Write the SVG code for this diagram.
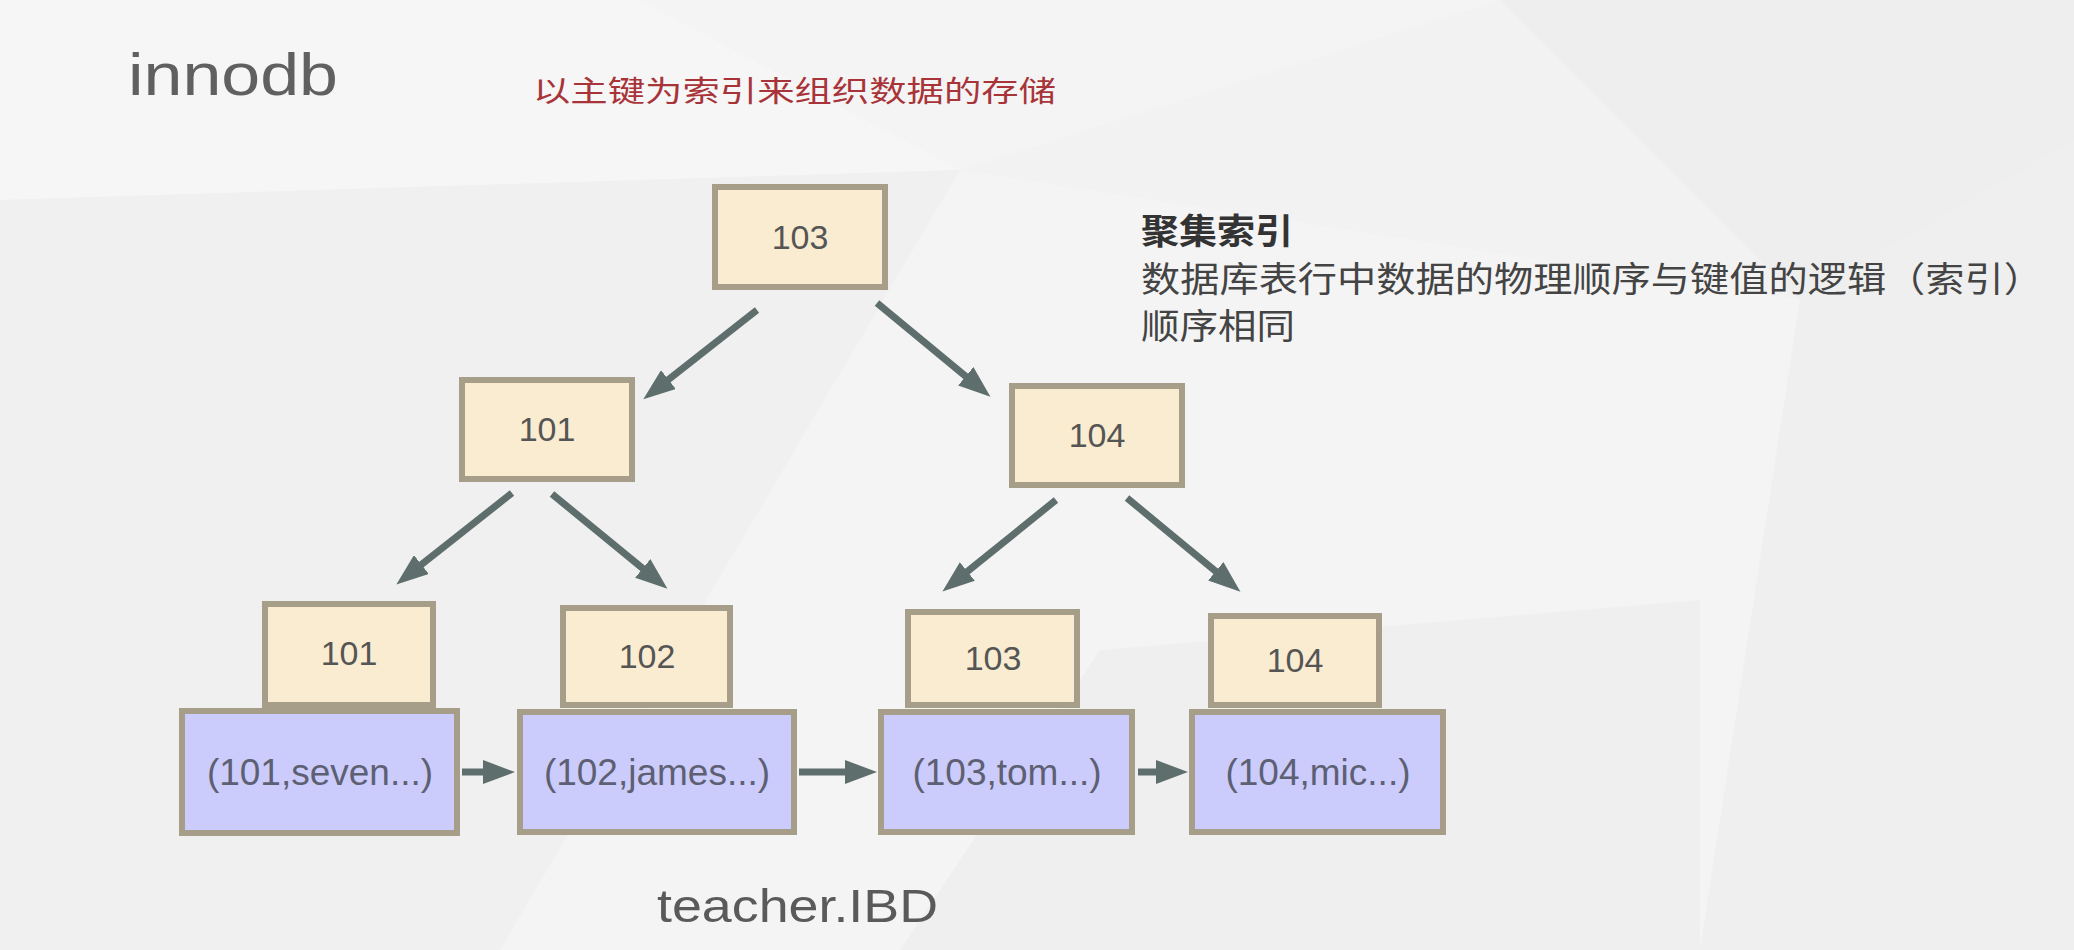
<svg xmlns="http://www.w3.org/2000/svg" width="2074" height="950" viewBox="0 0 2074 950">
<defs>
<style>
.key{fill:#f9ecd0;stroke:#a69e88;stroke-width:6}
.rec{fill:#ccccfc;stroke:#a69e88;stroke-width:6}
.kt{font-family:"Liberation Sans",Arial,sans-serif;font-size:34px;fill:#555555;text-anchor:middle}
.rt{font-family:"Liberation Sans",Arial,sans-serif;font-size:37px;fill:#5d6073;text-anchor:middle}
.arr{stroke:#5e6e6c;stroke-width:7;fill:none;marker-end:url(#ah)}
.cjk{font-family:"Noto Sans CJK SC","Noto Sans CJK JP",sans-serif}
</style>
<marker id="ah" markerUnits="userSpaceOnUse" markerWidth="34" markerHeight="24" refX="12" refY="12" orient="auto">
<path d="M0,0 L32,12 L0,24 z" fill="#5e6e6c"/>
</marker>
</defs>
<g id="background">
<rect x="0" y="0" width="2074" height="950" fill="#f2f2f2"/>
<polygon points="0,0 640,0 960,170 0,200" fill="#f6f6f6"/>
<polygon points="640,0 1500,0 960,170" fill="#f4f4f4"/>
<polygon points="1500,0 2074,0 2074,140 1800,300" fill="#eeeeee"/>
<polygon points="0,200 960,170 500,950 0,950" fill="#f0f0f0"/>
<polygon points="960,170 1800,300 1700,950 500,950" fill="#f4f4f4"/>
<polygon points="1800,300 2074,140 2074,950 1700,950" fill="#efefef"/>
<polygon points="1100,650 1700,600 1700,950 900,950" fill="#efefef"/>
</g>
<g id="title">
<text x="128" y="95" font-family="Liberation Sans,Arial,sans-serif" font-size="59" fill="#606060" textLength="210" lengthAdjust="spacingAndGlyphs">innodb</text>
</g>
<g id="subtitle">
<text class="cjk" x="533" y="102" font-size="29" fill="#a8343a" textLength="523" lengthAdjust="spacingAndGlyphs">以主键为索引来组织数据的存储</text>
</g>
<g id="note">
<text class="cjk" x="1141" y="244" font-size="35" font-weight="bold" fill="#333333" textLength="152" lengthAdjust="spacingAndGlyphs">聚集索引</text>
<text class="cjk" x="1141" y="292" font-size="35" fill="#444444" textLength="902" lengthAdjust="spacingAndGlyphs">数据库表行中数据的物理顺序与键值的逻辑（索引）</text>
<text class="cjk" x="1141" y="339" font-size="35" fill="#444444" textLength="154" lengthAdjust="spacingAndGlyphs">顺序相同</text>
</g>
<g id="connectors">
<line class="arr" x1="757" y1="310" x2="659" y2="387"/>
<line class="arr" x1="877" y1="303" x2="975" y2="384"/>
<line class="arr" x1="512" y1="493" x2="412" y2="572"/>
<line class="arr" x1="552" y1="494" x2="652" y2="576"/>
<line class="arr" x1="1056" y1="500" x2="958" y2="579"/>
<line class="arr" x1="1127" y1="498" x2="1225" y2="579"/>
<line class="arr" x1="462" y1="772" x2="495" y2="772"/>
<line class="arr" x1="799" y1="772" x2="857" y2="772"/>
<line class="arr" x1="1138" y1="772" x2="1168" y2="772"/>
</g>
<g id="root-103">
<rect class="key" x="715" y="187" width="170" height="100"/>
<text class="kt" x="800" y="249">103</text>
</g>
<g id="mid-101">
<rect class="key" x="462" y="380" width="170" height="99"/>
<text class="kt" x="547" y="441">101</text>
</g>
<g id="mid-104">
<rect class="key" x="1012" y="386" width="170" height="99"/>
<text class="kt" x="1097" y="447">104</text>
</g>
<g id="leaf-101">
<rect class="key" x="265" y="604" width="168" height="101"/>
<rect class="rec" x="182" y="711" width="275" height="122"/>
<text class="kt" x="349" y="665">101</text>
<text class="rt" x="320" y="785">(101,seven...)</text>
</g>
<g id="leaf-102">
<rect class="key" x="563" y="608" width="167" height="97"/>
<rect class="rec" x="520" y="712" width="274" height="120"/>
<text class="kt" x="647" y="668">102</text>
<text class="rt" x="657" y="785">(102,james...)</text>
</g>
<g id="leaf-103">
<rect class="key" x="908" y="612" width="169" height="93"/>
<rect class="rec" x="881" y="712" width="251" height="120"/>
<text class="kt" x="993" y="670">103</text>
<text class="rt" x="1007" y="785">(103,tom...)</text>
</g>
<g id="leaf-104">
<rect class="key" x="1211" y="616" width="168" height="89"/>
<rect class="rec" x="1192" y="712" width="251" height="120"/>
<text class="kt" x="1295" y="672">104</text>
<text class="rt" x="1318" y="785">(104,mic...)</text>
</g>
<g id="file-label">
<text x="657" y="922" font-family="Liberation Sans,Arial,sans-serif" font-size="47" fill="#5a5a5a" textLength="281" lengthAdjust="spacingAndGlyphs">teacher.IBD</text>
</g>
</svg>
